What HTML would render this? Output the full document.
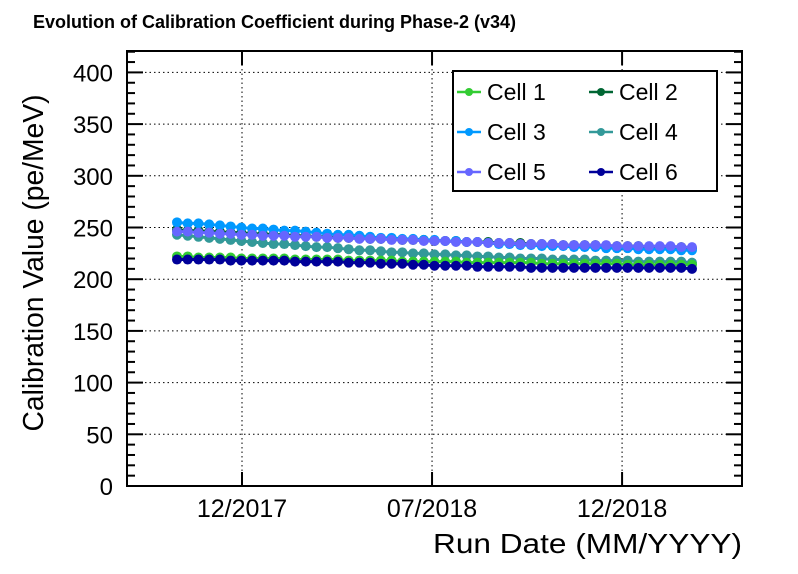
<!DOCTYPE html>
<html><head><meta charset="utf-8"><style>
body{margin:0;background:#fff;}
svg{display:block;font-family:"Liberation Sans",sans-serif;}
</style></head><body>
<svg id="chart" width="798" height="574">
<text x="33" y="28" font-size="18" font-weight="bold">Evolution of Calibration Coefficient during Phase-2 (v34)</text>
<g id="grid"></g><g id="axes"></g><g id="series"></g>
<text x="433" y="553" font-size="28" textLength="309" lengthAdjust="spacingAndGlyphs">Run Date (MM/YYYY)</text>
<text transform="translate(43,263) rotate(-90)" font-size="29" text-anchor="middle" textLength="337" lengthAdjust="spacingAndGlyphs">Calibration Value (pe/MeV)</text>
<g id="legend"></g>
</svg>
<script>
const xTickLabels=["12/2017","07/2018","12/2018"];
const yTicks=[0,50,100,150,200,250,300,350,400];
const cellNames=["Cell 1","Cell 2","Cell 3","Cell 4","Cell 5","Cell 6"];
const cell1=[222,222,221,221,221,221,220,220,220,220,220,219,219,219,219,219,218,218,218,218,218,217,217,217,217,217,217,216,216,216,216,216,216,216,215,215,215,215,215,215,215,215,214,214,214,214,214,214,214];
const cell2=[248,247,247,246,246,245,245,244,244,243,243,242,242,241,241,240,240,240,239,239,239,238,238,238,237,237,237,236,236,236,235,235,235,234,234,234,233,233,233,233,232,232,232,232,231,231,231,231,230];
const cell3=[255,254,254,253,252,251,250,249,249,248,247,247,246,245,244,243,243,242,241,240,240,239,239,238,238,237,237,236,236,235,234,234,233,233,232,232,232,231,231,231,230,230,230,229,229,229,229,228,228];
const cell4=[243,242,241,240,239,238,237,236,235,234,234,233,232,231,231,230,229,228,228,227,226,226,225,225,224,224,223,223,222,222,221,221,220,220,220,219,219,219,219,218,218,218,218,217,217,217,217,217,216];
const cell5=[246,246,245,245,244,244,243,243,242,242,242,241,241,241,240,240,240,239,239,239,238,238,238,237,237,237,236,236,236,235,235,235,234,234,234,234,233,233,233,233,233,232,232,232,232,232,232,231,231];
const cell6=[219,219,219,219,219,218,218,218,218,218,218,217,217,217,217,217,216,216,216,215,215,215,214,214,213,213,213,213,212,212,212,212,212,211,211,211,211,211,211,211,211,211,211,211,211,211,211,211,210];
const colors=["#33cc33","#006633","#0099ff","#339999","#6666ff","#000099"];
const NS="http://www.w3.org/2000/svg";
const L=127,R=742,T=51,B=486,YMAX=420.7;
const xTickPos=[0.187,0.496,0.805];
function y(v){return B-(v/YMAX)*(B-T);}
function xi(i,n){return 177+i*(692-177)/(n-1);}
function mk(tag,at,parent){const e=document.createElementNS(NS,tag);for(const k in at)e.setAttribute(k,at[k]);parent.appendChild(e);return e;}
const grid=document.getElementById('grid'),axes=document.getElementById('axes'),ser=document.getElementById('series'),leg=document.getElementById('legend');
yTicks.forEach(v=>{
 if(v>0){const g=mk('line',{x1:L,x2:R,y1:y(v),y2:y(v),stroke:'#000','stroke-dasharray':'1.5,3'},grid);
 
 }
 const t=mk('text',{x:L-14,y:y(v)+9,'font-size':24,'text-anchor':'end'},axes);t.textContent=v;
 
 
});
for(let v=0;v<=420;v+=10){const len=v%50==0?16:8;
 mk('line',{x1:L,x2:L+len,y1:y(v),y2:y(v),stroke:'#000','stroke-width':2},axes);
 mk('line',{x1:R-len,x2:R,y1:y(v),y2:y(v),stroke:'#000','stroke-width':2},axes);}
xTickLabels.forEach((s,i)=>{const x=L+xTickPos[i]*(R-L);
 const g=mk('line',{x1:x,x2:x,y1:T,y2:B,stroke:'#000','stroke-dasharray':'1.5,3'},grid);
 
 
 mk('line',{x1:x,x2:x,y1:B-14,y2:B,stroke:'#000','stroke-width':2},axes);
 mk('line',{x1:x,x2:x,y1:T,y2:T+14,stroke:'#000','stroke-width':2},axes);
 const t=mk('text',{x:x,y:517,'font-size':25,'text-anchor':'middle'},axes);t.textContent=s;
 
 });
const fr=mk('rect',{x:L,y:T,width:R-L,height:B-T,fill:'none',stroke:'#000','stroke-width':2},axes);


const all=[cell1,cell2,cell3,cell4,cell5,cell6];
const order=[3,1,0,5,2,4];
order.forEach(k=>{const d=all[k];const g=mk('g',{},ser);
 
 
 mk('polyline',{points:d.map((v,i)=>xi(i,d.length)+','+y(v)).join(' '),fill:'none',stroke:colors[k],'stroke-width':3},g);
 d.forEach((v,i)=>{const c=mk('circle',{cx:xi(i,d.length),cy:y(v),r:5,fill:colors[k]},g);
  
  });});
const lb=mk('rect',{x:453,y:71,width:264,height:120,fill:'#fff',stroke:'#000','stroke-width':2},leg);


cellNames.forEach((n,k)=>{const col=k%2,row=Math.floor(k/2);const x0=457+col*132,yy=92+row*40;
 const g=mk('g',{},leg);
 
 
 mk('line',{x1:x0,x2:x0+24,y1:yy,y2:yy,stroke:colors[k],'stroke-width':2.5},g);
 mk('circle',{cx:x0+12,cy:yy,r:4,fill:colors[k]},g);
 const t=mk('text',{x:x0+30,y:yy+8,'font-size':23},g);t.textContent=n;});
</script>
</body></html>
